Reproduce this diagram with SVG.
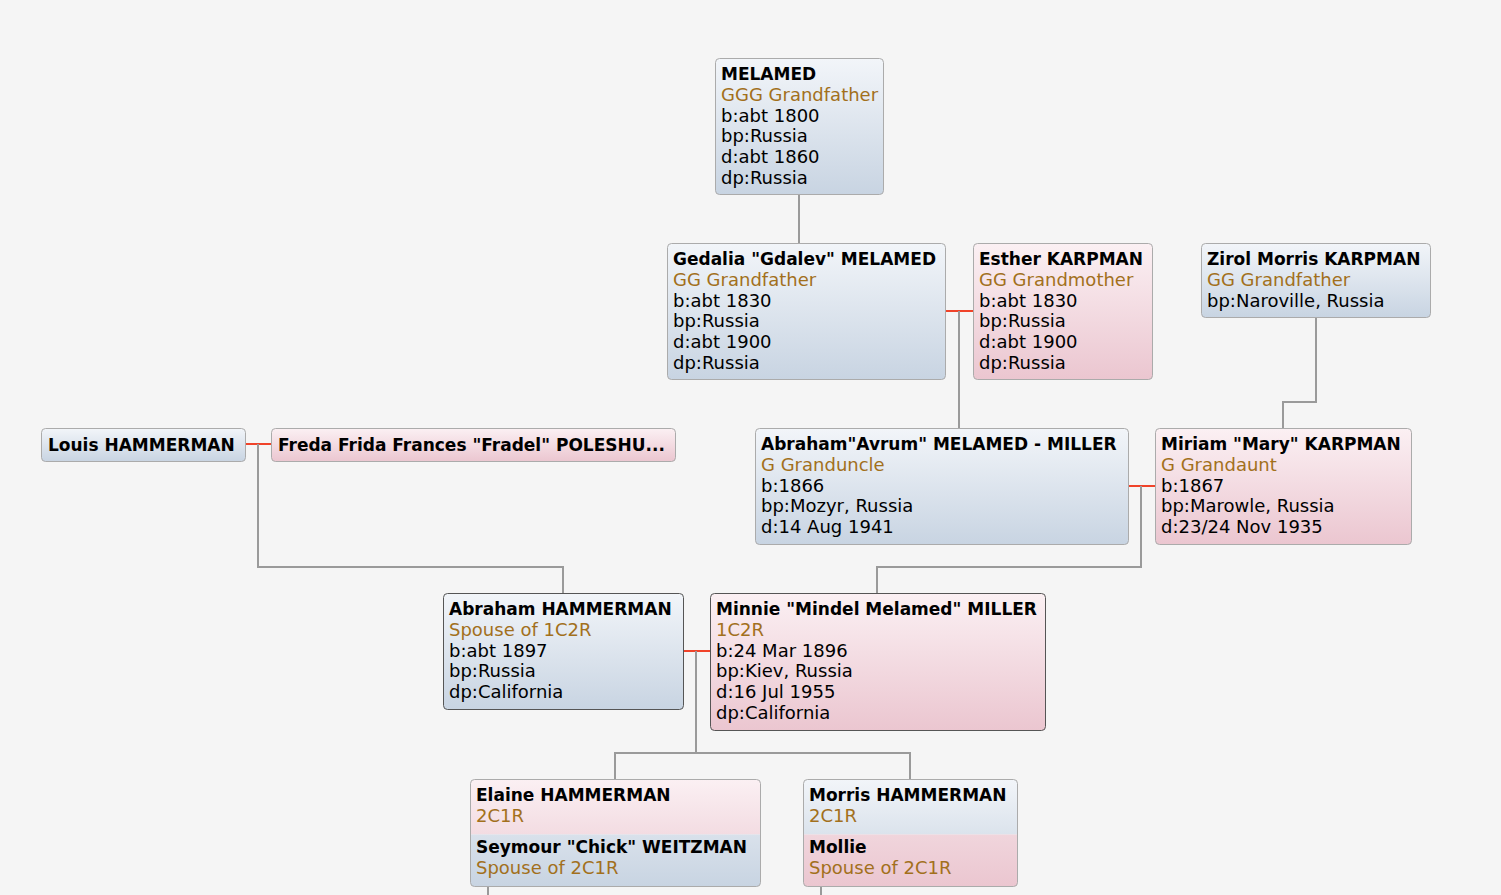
<svg xmlns="http://www.w3.org/2000/svg" width="1501" height="895" viewBox="0 0 1501 895">
<defs>
<linearGradient id="gb" x1="0" y1="0" x2="0" y2="1"><stop offset="0" stop-color="#f2f5f9"/><stop offset="1" stop-color="#c8d4e2"/></linearGradient>
<linearGradient id="gp" x1="0" y1="0" x2="0" y2="1"><stop offset="0" stop-color="#fbf0f3"/><stop offset="1" stop-color="#ebc6d0"/></linearGradient>
<linearGradient id="gpt" x1="0" y1="0" x2="0" y2="1"><stop offset="0" stop-color="#fbf0f3"/><stop offset="1" stop-color="#f3dce2"/></linearGradient>
<linearGradient id="gbb" x1="0" y1="0" x2="0" y2="1"><stop offset="0" stop-color="#d9e1eb"/><stop offset="1" stop-color="#c8d4e2"/></linearGradient>
<linearGradient id="gbt" x1="0" y1="0" x2="0" y2="1"><stop offset="0" stop-color="#f2f5f9"/><stop offset="1" stop-color="#dbe3ec"/></linearGradient>
<linearGradient id="gpb" x1="0" y1="0" x2="0" y2="1"><stop offset="0" stop-color="#f0d5dc"/><stop offset="1" stop-color="#ebc6d0"/></linearGradient>
</defs>
<style>
text{font-family:"DejaVu Sans","Liberation Sans",Arial,sans-serif;font-size:18px;fill:#000}
.t{font-weight:bold;font-size:17px}
.r{fill:#a2701c}
.box{stroke:#ababab;stroke-width:1}
.sel{stroke:#555;stroke-width:1}
.b{fill:url(#gb)}
.p{fill:url(#gp)}
.c{fill:none;stroke:#9a9a9a;stroke-width:2}
.m{fill:none;stroke:#f0432a;stroke-width:2}
</style>
<rect width="1501" height="895" fill="#f5f5f5"/>
<g id="connectors">
<path class="c" d="M799 194V243"/>
<path class="m" d="M945 311H973"/>
<path class="c" d="M959 311V428"/>
<path class="c" d="M1316 317V402H1283V428"/>
<path class="m" d="M245 444H271"/>
<path class="c" d="M258 444V567H563V593"/>
<path class="m" d="M1128 486H1155"/>
<path class="c" d="M1141 486V567H877V593"/>
<path class="m" d="M683 651H710"/>
<path class="c" d="M696 651V753H615V779M696 753H910V779"/>
<path class="c" d="M488 886V895M821 886V895"/>
</g>
<g id="melamed">
<rect class="box b" x="715.5" y="58.5" width="168" height="136" rx="4"/>
<text x="721" y="80" class="t">MELAMED</text>
<text x="721" y="101" class="r">GGG Grandfather</text>
<text x="721" y="121.5">b:abt 1800</text>
<text x="721" y="142">bp:Russia</text>
<text x="721" y="163">d:abt 1860</text>
<text x="721" y="183.5">dp:Russia</text>
</g>
<g id="gedalia">
<rect class="box b" x="667.5" y="243.5" width="278" height="136" rx="4"/>
<text x="673" y="265" class="t">Gedalia "Gdalev" MELAMED</text>
<text x="673" y="286" class="r">GG Grandfather</text>
<text x="673" y="306.5">b:abt 1830</text>
<text x="673" y="327">bp:Russia</text>
<text x="673" y="348">d:abt 1900</text>
<text x="673" y="368.5">dp:Russia</text>
</g>
<g id="esther">
<rect class="box p" x="973.5" y="243.5" width="179" height="136" rx="4"/>
<text x="979" y="265" class="t">Esther KARPMAN</text>
<text x="979" y="286" class="r">GG Grandmother</text>
<text x="979" y="306.5">b:abt 1830</text>
<text x="979" y="327">bp:Russia</text>
<text x="979" y="348">d:abt 1900</text>
<text x="979" y="368.5">dp:Russia</text>
</g>
<g id="zirol">
<rect class="box b" x="1201.5" y="243.5" width="229" height="74" rx="4"/>
<text x="1207" y="265" class="t">Zirol Morris KARPMAN</text>
<text x="1207" y="286" class="r">GG Grandfather</text>
<text x="1207" y="306.5">bp:Naroville, Russia</text>
</g>
<g id="louis">
<rect class="box b" x="41.5" y="428.5" width="204" height="33" rx="4"/>
<text x="48" y="451" class="t">Louis HAMMERMAN</text>
</g>
<g id="freda">
<rect class="box p" x="271.5" y="428.5" width="404" height="33" rx="4"/>
<text x="278" y="451" class="t">Freda Frida Frances "Fradel" POLESHU...</text>
</g>
<g id="abraham-avrum">
<rect class="box b" x="755.5" y="428.5" width="373" height="116" rx="4"/>
<text x="761" y="450" class="t">Abraham"Avrum" MELAMED - MILLER</text>
<text x="761" y="471" class="r">G Granduncle</text>
<text x="761" y="491.5">b:1866</text>
<text x="761" y="512">bp:Mozyr, Russia</text>
<text x="761" y="533">d:14 Aug 1941</text>
</g>
<g id="miriam">
<rect class="box p" x="1155.5" y="428.5" width="256" height="116" rx="4"/>
<text x="1161" y="450" class="t">Miriam "Mary" KARPMAN</text>
<text x="1161" y="471" class="r">G Grandaunt</text>
<text x="1161" y="491.5">b:1867</text>
<text x="1161" y="512">bp:Marowle, Russia</text>
<text x="1161" y="533">d:23/24 Nov 1935</text>
</g>
<g id="abraham-hammerman">
<rect class="sel b" x="443.5" y="593.5" width="240" height="116" rx="4"/>
<text x="449" y="615" class="t">Abraham HAMMERMAN</text>
<text x="449" y="636" class="r">Spouse of 1C2R</text>
<text x="449" y="656.5">b:abt 1897</text>
<text x="449" y="677">bp:Russia</text>
<text x="449" y="698">dp:California</text>
</g>
<g id="minnie">
<rect class="sel p" x="710.5" y="593.5" width="335" height="137" rx="4"/>
<text x="716" y="615" class="t">Minnie "Mindel Melamed" MILLER</text>
<text x="716" y="636" class="r">1C2R</text>
<text x="716" y="656.5">b:24 Mar 1896</text>
<text x="716" y="677">bp:Kiev, Russia</text>
<text x="716" y="698">d:16 Jul 1955</text>
<text x="716" y="718.5">dp:California</text>
</g>
<g id="elaine">
<path d="M470.5 834.5V783.5a4 4 0 0 1 4-4H756.5a4 4 0 0 1 4 4V834.5Z" fill="url(#gpt)"/>
<path d="M470.5 834.5V882.5a4 4 0 0 0 4 4H756.5a4 4 0 0 0 4-4V834.5Z" fill="url(#gbb)"/>
<rect class="box" fill="none" x="470.5" y="779.5" width="290" height="107" rx="4"/>
<text x="476" y="801" class="t">Elaine HAMMERMAN</text>
<text x="476" y="822" class="r">2C1R</text>
<text x="476" y="853" class="t">Seymour "Chick" WEITZMAN</text>
<text x="476" y="874" class="r">Spouse of 2C1R</text>
</g>
<g id="morris">
<path d="M803.5 834.5V783.5a4 4 0 0 1 4-4H1013.5a4 4 0 0 1 4 4V834.5Z" fill="url(#gbt)"/>
<path d="M803.5 834.5V882.5a4 4 0 0 0 4 4H1013.5a4 4 0 0 0 4-4V834.5Z" fill="url(#gpb)"/>
<rect class="box" fill="none" x="803.5" y="779.5" width="214" height="107" rx="4"/>
<text x="809" y="801" class="t">Morris HAMMERMAN</text>
<text x="809" y="822" class="r">2C1R</text>
<text x="809" y="853" class="t">Mollie</text>
<text x="809" y="874" class="r">Spouse of 2C1R</text>
</g>
</svg>
